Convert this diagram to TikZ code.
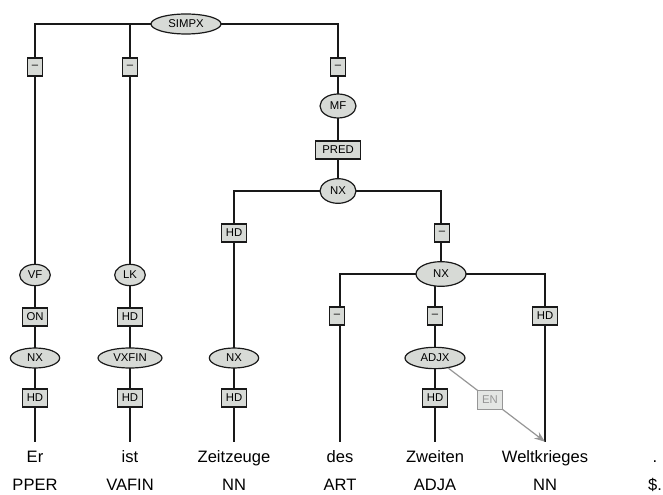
\documentclass[tikz,border=0pt]{standalone}
\usepackage{fontspec}
\setsansfont{Liberation Sans}
\usepackage{tikz}
\usetikzlibrary{arrows.meta, shapes.geometric, backgrounds}
\definecolor{nodefill}{RGB}{215, 218, 214}
\definecolor{linedark}{RGB}{25, 25, 25}
\definecolor{secgray}{RGB}{150, 150, 150}
\definecolor{secfill}{RGB}{228, 230, 228}

\begin{document}
\begin{tikzpicture}[x=0.75pt, y=-0.75pt, >={Stealth[length=8pt, width=6pt]},
  cat/.style={ellipse, draw=linedark, line width=0.9pt, fill=nodefill, inner sep=0pt,
    font=\sffamily\fontsize{8.5}{9}\selectfont},
  fn/.style={rectangle, draw=linedark, line width=0.9pt, fill=nodefill, inner xsep=3.2pt,
    inner ysep=0pt, minimum width=7.5pt, minimum height=13.5pt,
    font=\sffamily\fontsize{8.5}{9}\selectfont},
  fngray/.style={fn, draw=secgray, fill=secfill, text=secgray},
  word/.style={anchor=base, inner ysep=3.5pt, text height=11.5pt, text depth=3pt,
    font=\sffamily\fontsize{12.4}{14}\selectfont},
  tagtext/.style={anchor=base, font=\sffamily\fontsize{12.4}{14}\selectfont},
  treeline/.style={line width=0.9pt, linedark}]

  \useasboundingbox (0,0) rectangle (663,495);

  % --- Terminals and POS tags ---
  \foreach \x/\w/\t/\n in {35/Er/PPER/er, 130/ist/VAFIN/ist, 234/Zeitzeuge/NN/zeit,
      340/des/ART/des, 435/Zweiten/ADJA/zweit, 545/Weltkrieges/NN/welt, 655/./\$./punct} {
    \node[word] (\n) at (\x,462) {\w};
    \node[tagtext] (\n-tag) at (\x,490) {\t};
  }

  % --- Category nodes ---
  \node[cat, minimum width=52.5pt, minimum height=15pt] (simpx) at (186,24) {SIMPX};
  \node[cat, minimum width=27pt, minimum height=18pt] (mf) at (338,106) {MF};
  \node[cat, minimum width=27pt, minimum height=18.5pt] (nx-pred) at (338,191) {NX};
  \node[cat, minimum width=23pt, minimum height=16pt] (vf) at (35,275) {VF};
  \node[cat, minimum width=23pt, minimum height=16pt] (lk) at (130,275) {LK};
  \node[cat, minimum width=37pt, minimum height=15pt] (nx-on) at (35,358) {NX};
  \node[cat, minimum width=48pt, minimum height=15pt] (vxfin) at (130,358) {VXFIN};
  \node[cat, minimum width=37pt, minimum height=15pt] (nx-hd) at (234,358) {NX};
  \node[cat, minimum width=37.5pt, minimum height=18.5pt] (nx-gen) at (441,274) {NX};
  \node[cat, minimum width=45pt, minimum height=16pt] (adjx) at (435,358) {ADJX};

  % --- Edge labels ---
  \node[fn] (e-vf) at (35,67) {--};
  \node[fn] (e-lk) at (130,67) {--};
  \node[fn] (e-mf) at (338,67) {--};
  \node[fn, minimum width=34pt] (e-pred) at (338,150) {PRED};
  \node[fn] (e-on) at (35,317) {ON};
  \node[fn] (e-hd1) at (130,317) {HD};
  \node[fn] (e-hd2) at (35,398) {HD};
  \node[fn] (e-hd3) at (130,398) {HD};
  \node[fn] (e-zeit) at (234,233) {HD};
  \node[fn] (e-gen) at (442,233) {--};
  \node[fn] (e-hd4) at (234,398) {HD};
  \node[fn] (e-des) at (337,316) {--};
  \node[fn] (e-adjx) at (435,316) {--};
  \node[fn] (e-welt) at (545,316) {HD};
  \node[fn] (e-hd5) at (435,398) {HD};

  % --- Tree edges ---
  \begin{scope}[on background layer]
    \draw[treeline] (simpx.center) -| (vf.center);
    \draw[treeline] (simpx.center) -| (lk.center);
    \draw[treeline] (simpx.center) -| (mf.center);
    \draw[treeline] (mf.center) -- (nx-pred.center);
    \draw[treeline] (nx-pred.center) -| (nx-hd.center);
    \draw[treeline] (nx-pred.center) -| (nx-gen.center);
    \draw[treeline] (vf.center) -- (nx-on.center) -- (er.north);
    \draw[treeline] (lk.center) -- (vxfin.center) -- (ist.north);
    \draw[treeline] (nx-hd.center) -- (zeit.north);
    \draw[treeline] (nx-gen.center) -| (des.north);
    \draw[treeline] (nx-gen.center -| adjx.center) -- (adjx.center) -- (zweit.north);
    \draw[treeline] (nx-gen.center) -| (welt.north);
  \end{scope}

  % Secondary edge
  \draw[->, line width=0.9pt, secgray] (adjx) -- (welt.north)
    node[fngray, pos=0.43, minimum width=19pt, minimum height=14.5pt] (e-en) {EN};

\end{tikzpicture}
\end{document}
